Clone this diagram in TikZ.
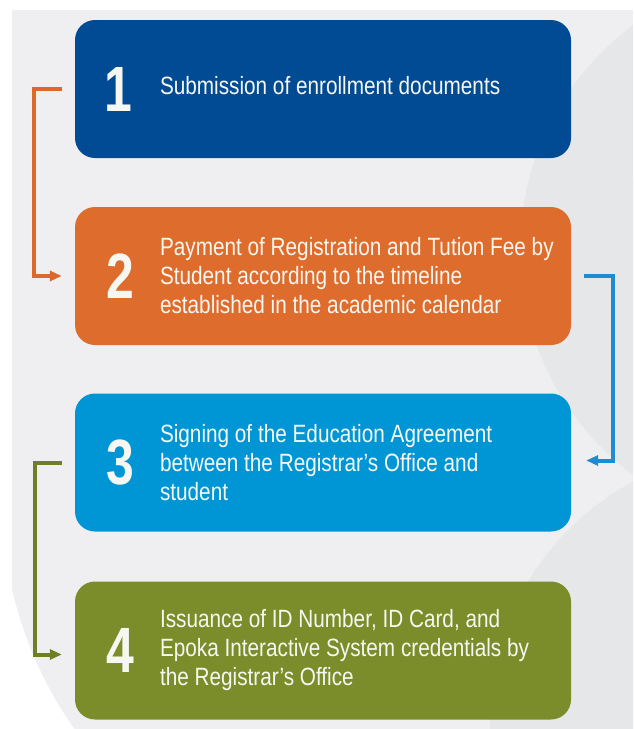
\documentclass[tikz,border=0pt]{standalone}
\usepackage{fontspec}
\setmainfont{Liberation Sans}[FakeStretch=0.83]
\newfontfamily\stepnumfont{Liberation Sans}[FakeStretch=0.78]
\usetikzlibrary{positioning,arrows.meta}
\definecolor{regblue}{HTML}{004B93}
\definecolor{regorange}{HTML}{DE6C2C}
\definecolor{regsky}{HTML}{0096D6}
\definecolor{regolive}{HTML}{7B8D2A}
\definecolor{arrorange}{HTML}{D9692E}
\definecolor{arrsky}{HTML}{1D8CD0}
\definecolor{arrolive}{HTML}{6F8024}
\definecolor{bggray}{HTML}{EFEFF1}
\definecolor{bgdark}{HTML}{E6E7E9}
\definecolor{txtwhite}{HTML}{F7F7F2}

\begin{document}
\begin{tikzpicture}[x=1pt, y=-1pt,
  stepbox/.style={rounded corners=20pt, minimum width=496pt, minimum height=138pt, inner sep=0pt},
  num/.style={text=txtwhite, inner sep=0pt, font=\stepnumfont\fontsize{64}{64}\selectfont\bfseries},
  lbl/.style={text=txtwhite, anchor=west, align=left, inner sep=0pt, font=\fontsize{25}{29}\selectfont},
  flow/.style={line width=4pt, -{Triangle[length=12pt, width=10pt]}}]
\useasboundingbox (0,0) rectangle (633,729);
% background
\begin{scope}
\clip (12,10) rectangle (633,729);
\fill[bggray] (12,10) rectangle (633,500);
\fill[bggray] (400,500) circle[radius=398];
\fill[bgdark] (800,250) circle[radius=280];
\fill[bgdark] (760,720) circle[radius=270];
\end{scope}
% steps
\node[stepbox, fill=regblue] (s1) at (323,89) {};
\node[stepbox, fill=regorange] (s2) at (323,276) {};
\node[stepbox, fill=regsky] (s3) at (323,462.5) {};
\node[stepbox, fill=regolive] (s4) at (323,650.5) {};
\node[num] (n1) at ([xshift=44pt]s1.west) {1};
\node[num] (n2) at ([xshift=46pt]s2.west) {2};
\node[num] (n3) at ([xshift=46pt]s3.west) {3};
\node[num] (n4) at ([xshift=46pt]s4.west) {4};
\node[lbl] (t1) at ([xshift=85pt, yshift=3pt]s1.west) {Submission of enrollment documents};
\node[lbl] (t2) at ([xshift=85pt]s2.west) {Payment of Registration and Tution Fee by\\Student according to the timeline\\established in the academic calendar};
\node[lbl] (t3) at ([xshift=85pt]s3.west) {Signing of the Education Agreement\\between the Registrar’s Office and\\student};
\node[lbl] (t4) at ([xshift=85pt]s4.west) {Issuance of ID Number, ID Card, and\\Epoka Interactive System credentials by\\the Registrar’s Office};
% arrows
\draw[flow, arrorange] ([xshift=-13pt]s1.west) -- ++(-28,0) |- ([xshift=-13pt]s2.west);
\draw[flow, arrsky] ([xshift=13pt]s2.east) -- ++(29,0) |- ([xshift=15pt, yshift=2pt]s3.east);
\draw[flow, arrolive] ([xshift=-13pt]s3.west) -- ++(-27,0) |- ([xshift=-13pt, yshift=-4pt]s4.west);
\end{tikzpicture}
\end{document}
